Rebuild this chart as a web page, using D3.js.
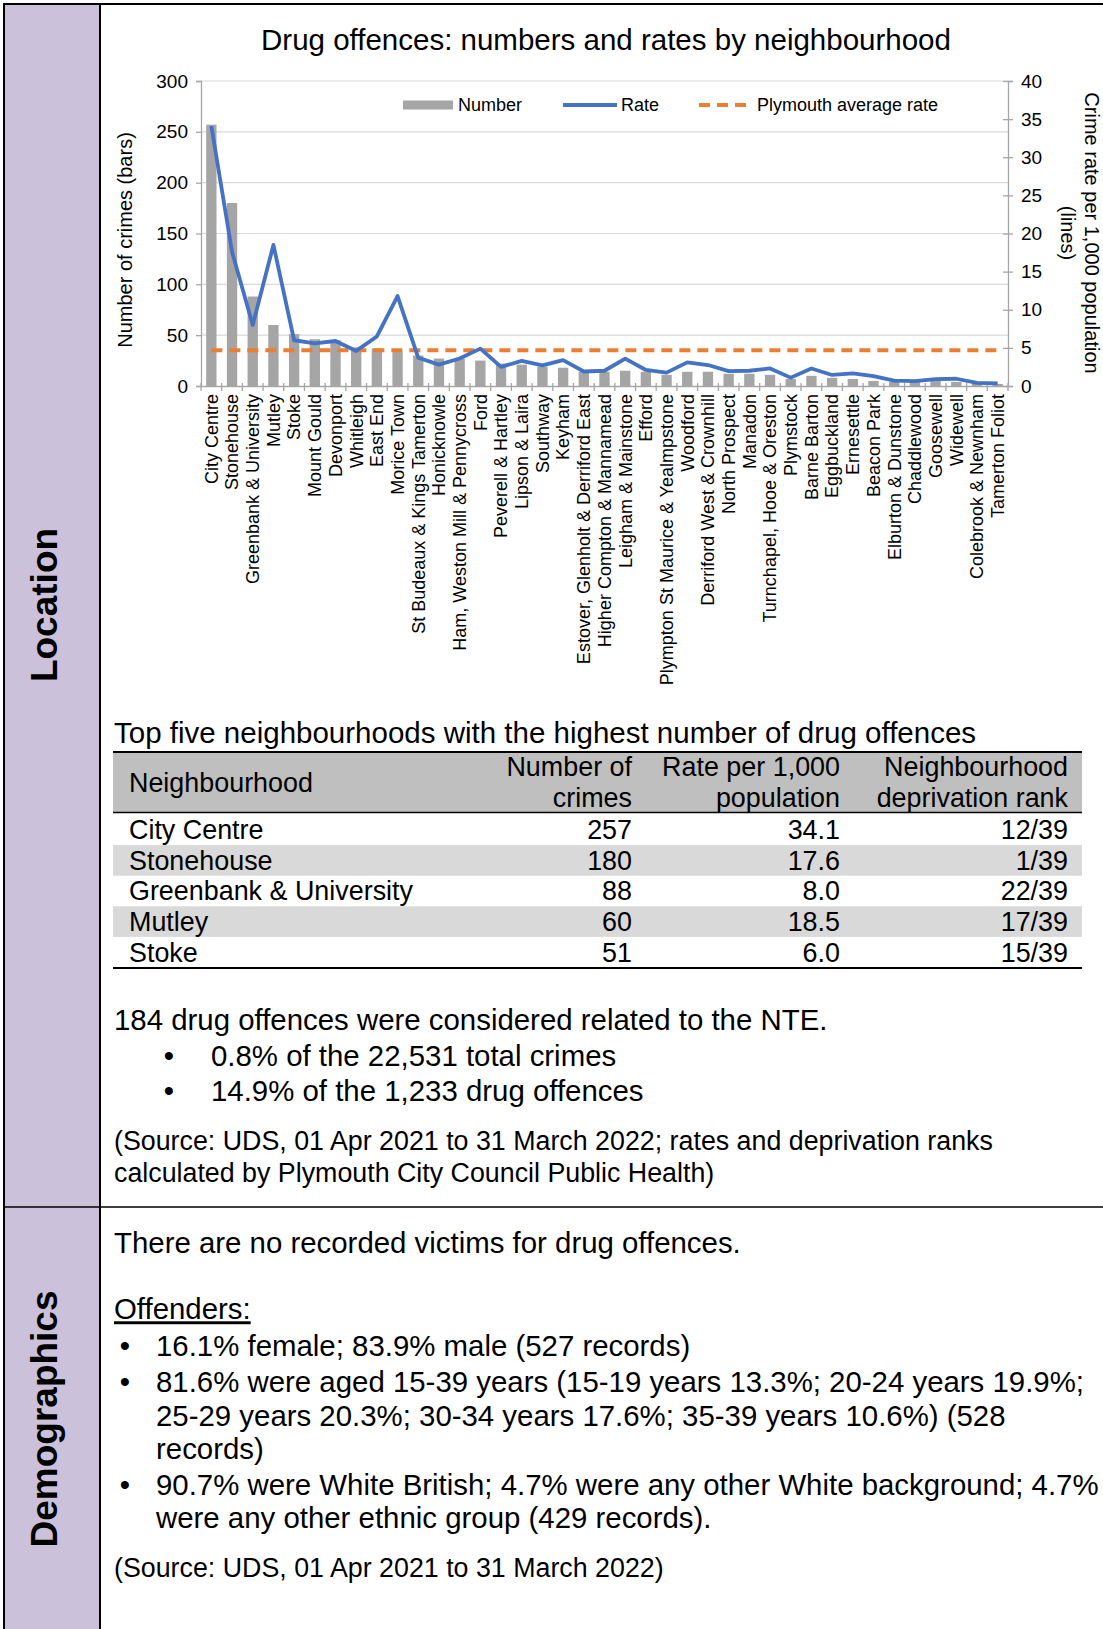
<!DOCTYPE html>
<html><head><meta charset="utf-8">
<script src="https://cdn.jsdelivr.net/npm/d3@7"></script>
<style>
body{margin:0;background:#fff}
svg{display:block}
text{font-family:"Liberation Sans",Arial,Helvetica,sans-serif;fill:#000}
</style>
</head><body>
<svg id="page" width="1103" height="1629"></svg>
<script>
// ---------------- DATA ----------------
const chartTitle = "Drug offences: numbers and rates by neighbourhood";
const categories = ["City Centre","Stonehouse","Greenbank & University","Mutley","Stoke","Mount Gould","Devonport","Whitleigh","East End","Morice Town","St Budeaux & Kings Tamerton","Honicknowle","Ham, Weston Mill & Pennycross","Ford","Peverell & Hartley","Lipson & Laira","Southway","Keyham","Estover, Glenholt & Derriford East","Higher Compton & Mannamead","Leigham & Mainstone","Efford","Plympton St Maurice & Yealmpstone","Woodford","Derriford West & Crownhill","North Prospect","Manadon","Turnchapel, Hooe & Oreston","Plymstock","Barne Barton","Eggbuckland","Ernesettle","Beacon Park","Elburton & Dunstone","Chaddlewood","Goosewell","Widewell","Colebrook & Newnham","Tamerton Foliot"];
const numbers = [257,180,88,60,51,46,45,38,37,34,30,27,27,25,22,21,19,18,14,14,15,14,11,14,14,12,12,11,7,10,8,7,5,4,4,5,4,2,2];
const rates = [34.1,17.6,8.0,18.5,6.0,5.6,5.9,4.6,6.5,11.8,3.7,2.8,3.6,4.9,2.5,3.3,2.7,3.4,1.9,2.0,3.6,2.1,1.75,3.1,2.75,1.95,2.0,2.3,1.1,2.3,1.45,1.65,1.3,0.7,0.65,0.9,0.95,0.4,0.35];
const plymouthAverageRate = 4.7;
const leftTicks = [0,50,100,150,200,250,300];
const rightTicks = [0,5,10,15,20,25,30,35,40];
const legendLabels = ["Number","Rate","Plymouth average rate"];
const leftAxisTitle = "Number  of crimes (bars)";
const rightAxisTitle = ["Crime rate per 1,000 population","(lines)"];

const tableCaption = "Top five neighbourhoods with the highest number of drug offences";
const tableHeaders = [["Neighbourhood"],["Number of","crimes"],["Rate per 1,000","population"],["Neighbourhood","deprivation rank"]];
const tableNames = ["City Centre","Stonehouse","Greenbank & University","Mutley","Stoke"];
const tableNumbers = ["257","180","88","60","51"];
const tableRates = ["34.1","17.6","8.0","18.5","6.0"];
const tableRanks = ["12/39","1/39","22/39","17/39","15/39"];

const nteText = "184 drug offences were considered related to the NTE.";
const nteBullets = ["0.8% of the 22,531 total crimes","14.9% of the 1,233 drug offences"];
const locationSource = ["(Source: UDS, 01 Apr 2021 to 31 March 2022; rates and deprivation ranks","calculated by Plymouth City Council Public Health)"];
const victimsText = "There are no recorded victims for drug offences.";
const offendersHeading = "Offenders:";
const offenderBullets = [
  ["16.1% female; 83.9% male (527 records)"],
  ["81.6% were aged 15-39 years (15-19 years 13.3%; 20-24 years 19.9%;","25-29 years 20.3%; 30-34 years 17.6%; 35-39 years 10.6%) (528","records)"],
  ["90.7% were White British; 4.7% were any other White background; 4.7%","were any other ethnic group (429 records)."]
];
const demoSource = "(Source: UDS, 01 Apr 2021 to 31 March 2022)";
const sectionLabels = ["Location","Demographics"];

// ---------------- PAGE FRAME ----------------
const svg = d3.select("#page");
svg.append("rect").attr("x",5).attr("y",4).attr("width",95).attr("height",1625).attr("fill","#CCC1DA");
const frame = svg.append("g").attr("stroke","#000");
frame.append("line").attr("x1",4).attr("x2",4).attr("y1",3).attr("y2",1629).attr("stroke-width",2);
frame.append("line").attr("x1",3).attr("x2",1103).attr("y1",4).attr("y2",4).attr("stroke-width",2);
frame.append("line").attr("x1",100).attr("x2",100).attr("y1",3).attr("y2",1629).attr("stroke-width",2);
frame.append("line").attr("x1",3).attr("x2",1103).attr("y1",1207).attr("y2",1207).attr("stroke-width",1.6);

function txt(x, y, s, size, opts={}) {
  const t = svg.append("text").attr("x",x).attr("y",y).attr("dy","0.35em")
    .attr("font-size",size).text(s);
  if (opts.anchor) t.attr("text-anchor",opts.anchor);
  if (opts.weight) t.attr("font-weight",opts.weight);
  if (opts.transform) t.attr("transform",opts.transform);
  if (opts.deco) t.attr("text-decoration",opts.deco);
  return t;
}
txt(0,0,sectionLabels[0],37,{anchor:"middle",weight:"bold",transform:"translate(44,605) rotate(-90)"});
txt(0,0,sectionLabels[1],37,{anchor:"middle",weight:"bold",transform:"translate(44,1419) rotate(-90)"});

// ---------------- CHART ----------------
const plot = {left:201,right:1008,top:81,bottom:386};
const x = d3.scaleBand().domain(categories).range([plot.left,plot.right]).paddingInner(0.5).paddingOuter(0.25);
const yL = d3.scaleLinear().domain([0,300]).range([plot.bottom,plot.top]);
const yR = d3.scaleLinear().domain([0,40]).range([plot.bottom,plot.top]);
const chart = svg.append("g");

txt(606,40,chartTitle,29.5,{anchor:"middle"});

// gridlines
chart.append("g").selectAll("line").data(leftTicks.slice(1)).join("line")
  .attr("x1",plot.left).attr("x2",plot.right).attr("y1",d=>yL(d)).attr("y2",d=>yL(d))
  .attr("stroke","#D9D9D9").attr("stroke-width",1.2);

// bars
chart.append("g").selectAll("rect").data(categories).join("rect")
  .attr("x",d=>x(d)).attr("width",x.bandwidth())
  .attr("y",(d,i)=>yL(numbers[i])).attr("height",(d,i)=>yL(0)-yL(numbers[i]))
  .attr("fill","#A5A5A5");

// axes
const axL = chart.append("g").attr("transform",`translate(${plot.left},0)`)
  .call(d3.axisLeft(yL).tickValues(leftTicks).tickSize(5).tickPadding(8));
const axR = chart.append("g").attr("transform",`translate(${plot.right},0)`)
  .call(d3.axisRight(yR).tickValues(rightTicks).tickSize(5).tickPadding(8));
axR.selectAll(".tick line").attr("x1",-5);
[axL,axR].forEach(a=>{
  a.select(".domain").attr("stroke","#A6A6A6").attr("stroke-width",1.3);
  a.selectAll(".tick line").attr("stroke","#A6A6A6").attr("stroke-width",1.3);
  a.selectAll(".tick text").attr("font-size",19).attr("font-family","'Liberation Sans',Arial,sans-serif").attr("fill","#000");
});
const axB = chart.append("g").attr("transform",`translate(0,${plot.bottom})`)
  .call(d3.axisBottom(x).tickSize(0).tickFormat(""));
axB.select(".domain").attr("stroke","#A6A6A6").attr("stroke-width",1.3);
// category boundary ticks
const boundaries = d3.range(categories.length+1).map(i=>plot.left + i*x.step());
chart.append("g").selectAll("line").data(boundaries).join("line")
  .attr("x1",d=>d).attr("x2",d=>d).attr("y1",plot.bottom-3).attr("y2",plot.bottom+5)
  .attr("stroke","#A6A6A6").attr("stroke-width",1.3);

// category labels
chart.append("g").selectAll("text").data(categories).join("text")
  .attr("transform",d=>`translate(${x(d)+x.bandwidth()/2},${plot.bottom+8}) rotate(-90)`)
  .attr("text-anchor","end").attr("dy","0.35em").attr("font-size",18).text(d=>d);

// average line
chart.append("line").attr("x1",x(categories[0])+x.bandwidth()/2).attr("x2",x(categories[categories.length-1])+x.bandwidth()/2)
  .attr("y1",yR(plymouthAverageRate)).attr("y2",yR(plymouthAverageRate))
  .attr("stroke","#ED7D31").attr("stroke-width",4).attr("stroke-dasharray","11,7");

// rate line
const line = d3.line().x((d,i)=>x(categories[i])+x.bandwidth()/2).y(d=>yR(d));
chart.append("path").datum(rates).attr("d",line).attr("fill","none")
  .attr("stroke","#4472C4").attr("stroke-width",3.8).attr("stroke-linejoin","round");

// axis titles
txt(0,0,leftAxisTitle,20,{anchor:"middle",transform:"translate(125,240) rotate(-90)"});
txt(0,0,rightAxisTitle[0],20,{anchor:"middle",transform:"translate(1092,233) rotate(90)"});
txt(0,0,rightAxisTitle[1],20,{anchor:"middle",transform:"translate(1068,233) rotate(90)"});

// legend
const lg = chart.append("g");
lg.append("rect").attr("x",403).attr("y",100.5).attr("width",50).attr("height",9).attr("fill","#A5A5A5");
txt(458,105,legendLabels[0],18);
lg.append("line").attr("x1",563).attr("x2",617).attr("y1",105).attr("y2",105).attr("stroke","#4472C4").attr("stroke-width",3.8);
txt(621,105,legendLabels[1],18);
lg.append("line").attr("x1",699).attr("x2",752).attr("y1",105).attr("y2",105).attr("stroke","#ED7D31").attr("stroke-width",4).attr("stroke-dasharray","11,7");
txt(757,105,legendLabels[2],18);

// ---------------- TABLE ----------------
txt(114,733,tableCaption,29.5);
const tbl = svg.append("g");
const tL = 113, tR = 1082;
tbl.append("rect").attr("x",tL).attr("y",752).attr("width",tR-tL).attr("height",60).attr("fill","#BFBFBF");
const rowTop = 814.5, rowH = 30.6;
tableNames.forEach((n,i)=>{
  if (i%2===1) tbl.append("rect").attr("x",tL).attr("y",rowTop+i*rowH).attr("width",tR-tL).attr("height",rowH).attr("fill","#D9D9D9");
});
tbl.append("line").attr("x1",tL).attr("x2",tR).attr("y1",752).attr("y2",752).attr("stroke","#000").attr("stroke-width",2);
tbl.append("line").attr("x1",tL).attr("x2",tR).attr("y1",812.5).attr("y2",812.5).attr("stroke","#000").attr("stroke-width",1.6);
tbl.append("line").attr("x1",tL).attr("x2",tR).attr("y1",968).attr("y2",968).attr("stroke","#000").attr("stroke-width",2);
const colRight = [null,632,840,1068];
const tf = 26.9;
txt(129,783,tableHeaders[0][0],tf);
[1,2,3].forEach(c=>{
  txt(colRight[c],767,tableHeaders[c][0],tf,{anchor:"end"});
  txt(colRight[c],798,tableHeaders[c][1],tf,{anchor:"end"});
});
tableNames.forEach((n,i)=>{
  const cy = rowTop + i*rowH + rowH/2;
  txt(129,cy,n,tf);
  txt(colRight[1],cy,tableNumbers[i],tf,{anchor:"end"});
  txt(colRight[2],cy,tableRates[i],tf,{anchor:"end"});
  txt(colRight[3],cy,tableRanks[i],tf,{anchor:"end"});
});

// ---------------- BODY TEXT ----------------
const bf = 29.4;
const sf = 26.8;
txt(114,1020,nteText,bf);
nteBullets.forEach((b,i)=>{
  const cy = 1056 + i*34.5;
  txt(169,cy,"\u2022",bf,{anchor:"middle"});
  txt(211,cy,b,bf);
});
locationSource.forEach((s,i)=>txt(114,1141+i*31.5,s,sf));

txt(114,1243,victimsText,bf);
txt(114,1309,offendersHeading,bf,{deco:"underline"});
const bulletLines = [[1346],[1382,1416,1449],[1485,1518]];
offenderBullets.forEach((lines,i)=>{
  txt(125,bulletLines[i][0],"\u2022",bf,{anchor:"middle"});
  lines.forEach((l,j)=>txt(156,bulletLines[i][j],l,bf));
});
txt(114,1568,demoSource,sf);
</script>
</body></html>
